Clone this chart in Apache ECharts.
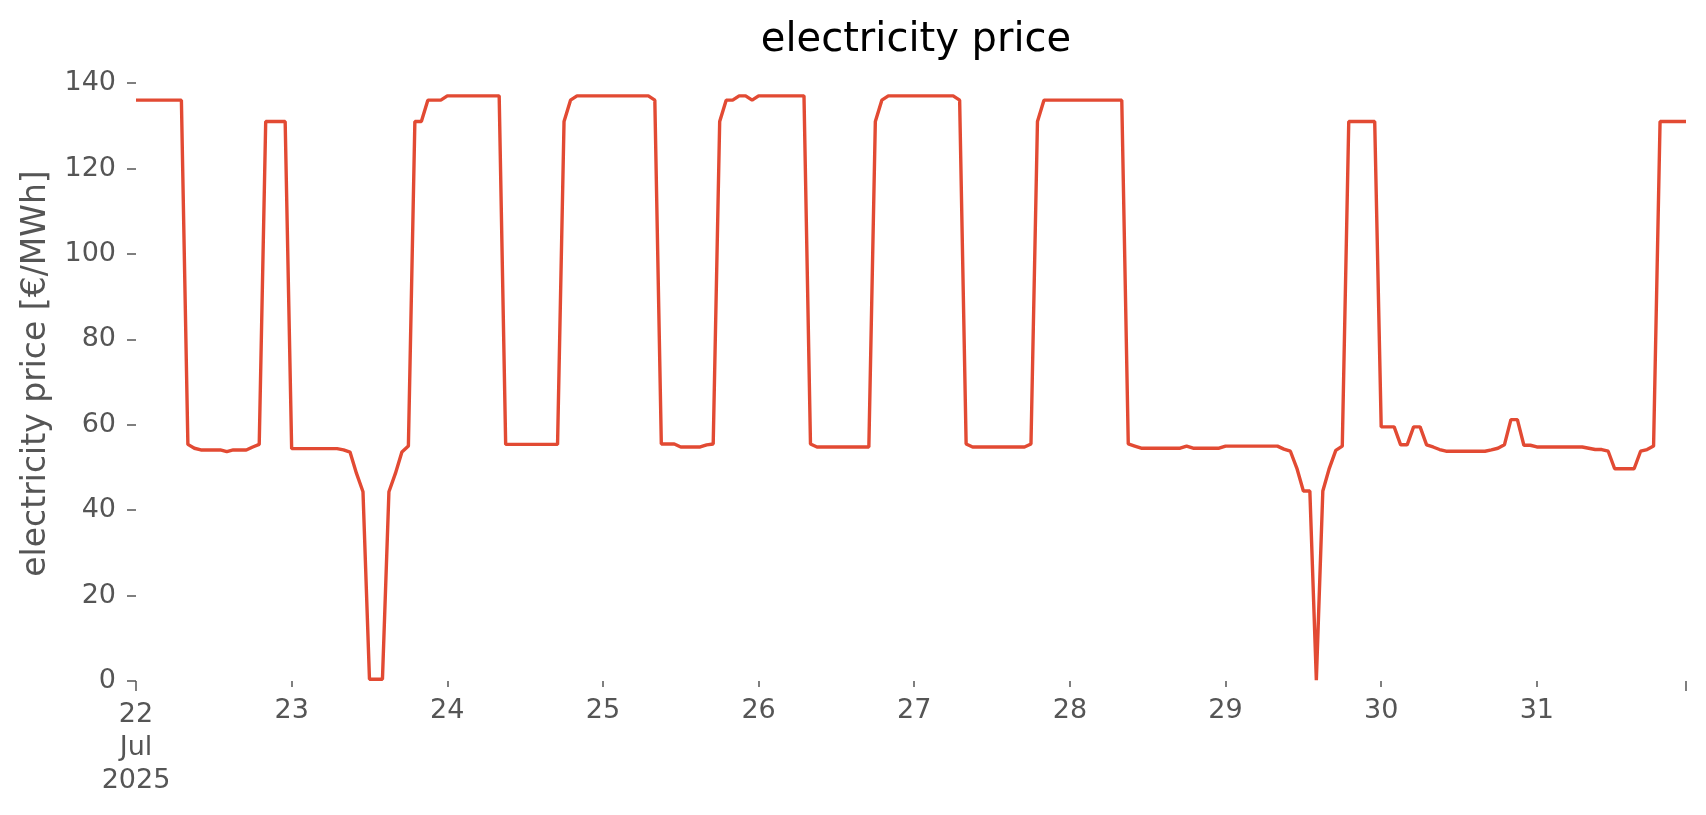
<!DOCTYPE html>
<html>
<head>
<meta charset="utf-8">
<script src="https://cdn.jsdelivr.net/npm/echarts@6/dist/echarts.min.js"></script>
<style>
html,body{margin:0;padding:0;background:#fff;}
#chart{width:1706px;height:815px;}
</style>
</head>
<body>
<div id="chart"></div>
<script>
// ---------- data ----------
const chartTitle = 'electricity price';
const yAxisName = 'electricity price [€/MWh]';
const days = ['2025-07-22','2025-07-23','2025-07-24','2025-07-25','2025-07-26',
              '2025-07-27','2025-07-28','2025-07-29','2025-07-30','2025-07-31'];
const dayTickLabels = ['22\nJul\n2025','23','24','25','26','27','28','29','30','31'];
const yTicks = [0,20,40,60,80,100,120,140];

// hourly prices (00:00 ... 23:00) per day, €/MWh
const price_0722 = [136,136,136,136,136,136,136,136,55.4,54.5,54.1,54.1,54.1,54.1,53.7,54.1,54.1,54.1,54.8,55.4,131,131,131,131];
const price_0723 = [54.4,54.4,54.4,54.4,54.4,54.4,54.4,54.4,54.1,53.6,48.6,44.3,0.4,0.4,0.4,44.3,48.6,53.6,55,131,131,136,136,136];
const price_0724 = [137,137,137,137,137,137,137,137,137,55.4,55.4,55.4,55.4,55.4,55.4,55.4,55.4,55.4,131,136,137,137,137,137];
const price_0725 = [137,137,137,137,137,137,137,137,136,55.5,55.5,55.5,54.8,54.8,54.8,54.8,55.3,55.5,131,136,136,137,137,136];
const price_0726 = [137,137,137,137,137,137,137,137,55.5,54.8,54.8,54.8,54.8,54.8,54.8,54.8,54.8,54.8,131,136,137,137,137,137];
const price_0727 = [137,137,137,137,137,137,137,136,55.5,54.8,54.8,54.8,54.8,54.8,54.8,54.8,54.8,54.8,55.5,131,136,136,136,136];
const price_0728 = [136,136,136,136,136,136,136,136,136,55.5,55,54.5,54.5,54.5,54.5,54.5,54.5,54.5,55,54.5,54.5,54.5,54.5,54.5];
const price_0729 = [55,55,55,55,55,55,55,55,55,54.3,53.8,49.8,44.5,44.5,0.2,44.5,49.8,54,55,131,131,131,131,131];
const price_0730 = [59.5,59.5,59.5,55.3,55.3,59.5,59.5,55.3,54.8,54.2,53.8,53.8,53.8,53.8,53.8,53.8,53.8,54.1,54.5,55.3,61.2,61.2,55.2,55.2];
const price_0731 = [54.8,54.8,54.8,54.8,54.8,54.8,54.8,54.8,54.5,54.2,54.2,53.8,49.7,49.7,49.7,49.7,53.8,54.2,55,131,131,131,131,131];

const dayPrices = [price_0722,price_0723,price_0724,price_0725,price_0726,
                   price_0727,price_0728,price_0729,price_0730,price_0731];

// ---------- build series ----------
const categories = [];
const values = [];
days.forEach((d, i) => {
  dayPrices[i].forEach((v, h) => {
    categories.push(d + ' ' + String(h).padStart(2, '0') + ':00');
    values.push(v);
  });
});
const lastIdx = categories.length - 1;

const FONT = 'DejaVu Sans';
const GREY = '#555555';
const GRID_LEFT = 136, GRID_RIGHT = 20;
const gridRect = {left: GRID_LEFT, right: GRID_RIGHT, top: 66, bottom: 134, containLabel: false};
const W = 1706;

const chart = echarts.init(document.getElementById('chart'), null, {renderer: 'canvas'});
chart.setOption({
  animation: false,
  backgroundColor: '#ffffff',
  title: {
    text: chartTitle,
    left: (GRID_LEFT + (W - GRID_RIGHT)) / 2,
    textAlign: 'center',
    top: 14,
    textStyle: {fontFamily: FONT, fontSize: 40, fontWeight: 'normal', color: '#000000', lineHeight: 44}
  },
  grid: [Object.assign({}, gridRect), Object.assign({}, gridRect)],
  xAxis: [
    {
      type: 'category', gridIndex: 0, data: categories, boundaryGap: false,
      axisLine: {show: false},
      axisTick: {show: true, length: 6, interval: (i) => i % 24 === 0 && i > 0,
                 lineStyle: {color: GREY, width: 1.5}},
      axisLabel: {show: true, interval: (i) => i % 24 === 0 && i > 0,
                  formatter: (v, i) => dayTickLabels[Math.round(i / 24)],
                  fontFamily: FONT, fontSize: 27, color: GREY, margin: 13, lineHeight: 33},
      splitLine: {show: false}
    },
    {
      type: 'category', gridIndex: 1, data: categories, boundaryGap: false,
      axisLine: {show: false},
      axisTick: {show: true, length: 10, interval: (i) => i === 0 || i === lastIdx,
                 lineStyle: {color: GREY, width: 1.5}},
      axisLabel: {show: true, interval: (i) => i === 0,
                  formatter: (v, i) => (i === 0 ? dayTickLabels[0] : ''),
                  fontFamily: FONT, fontSize: 27, color: GREY, margin: 17, lineHeight: 33},
      splitLine: {show: false}
    }
  ],
  yAxis: [
    {
      type: 'value', gridIndex: 0, min: 0, max: 144, interval: 20,
      name: yAxisName, nameLocation: 'middle', nameGap: 83,
      nameTextStyle: {fontFamily: FONT, fontSize: 33, color: GREY},
      axisLine: {show: false},
      axisTick: {show: true, length: 9, customValues: yTicks, lineStyle: {color: GREY, width: 1.5}},
      axisLabel: {customValues: yTicks, fontFamily: FONT, fontSize: 27, color: GREY, margin: 20},
      splitLine: {show: false}
    },
    {
      type: 'value', gridIndex: 1, min: 0, max: 144, show: false
    }
  ],
  series: [{
    type: 'line',
    xAxisIndex: 0, yAxisIndex: 0,
    data: values,
    showSymbol: false,
    symbol: 'none',
    lineStyle: {color: '#E24A33', width: 3.4},
    itemStyle: {color: '#E24A33'}
  }]
});
</script>
</body>
</html>
